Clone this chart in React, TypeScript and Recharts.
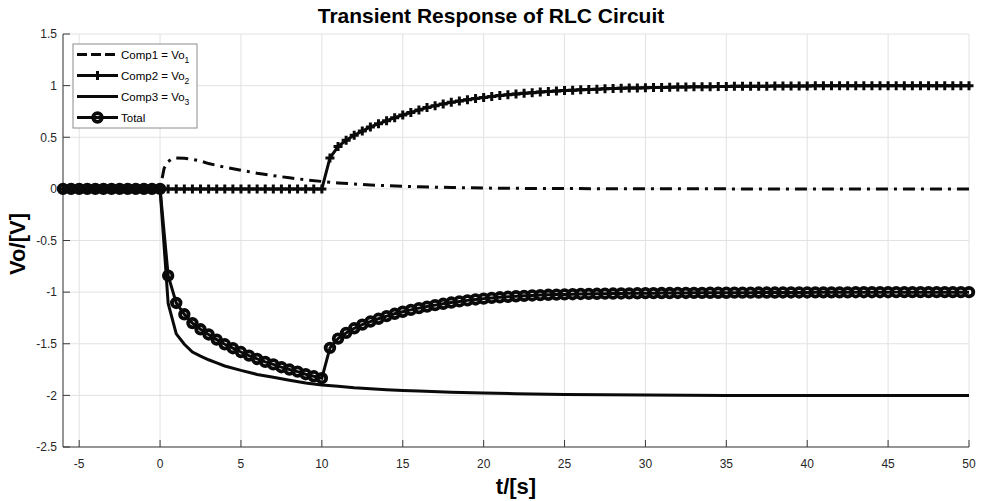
import React from 'react';
import { LineChart, Line, XAxis, YAxis, CartesianGrid } from 'recharts';

// Sample grid for the marked series (0.5 s spacing)
const GRID_T = [
  -6, -5.5, -5, -4.5, -4, -3.5, -3, -2.5, -2, -1.5, -1, -0.5,
  0, 0.5, 1, 1.5, 2, 2.5, 3, 3.5, 4, 4.5, 5, 5.5, 6, 6.5, 7, 7.5, 8, 8.5, 9, 9.5,
  10, 10.5, 11, 11.5, 12, 12.5, 13, 13.5, 14, 14.5, 15, 15.5, 16, 16.5, 17, 17.5, 18, 18.5, 19, 19.5,
  20, 20.5, 21, 21.5, 22, 22.5, 23, 23.5, 24, 24.5, 25, 25.5, 26, 26.5, 27, 27.5, 28, 28.5, 29, 29.5,
  30, 30.5, 31, 31.5, 32, 32.5, 33, 33.5, 34, 34.5, 35, 35.5, 36, 36.5, 37, 37.5, 38, 38.5, 39, 39.5,
  40, 40.5, 41, 41.5, 42, 42.5, 43, 43.5, 44, 44.5, 45, 45.5, 46, 46.5, 47, 47.5, 48, 48.5, 49, 49.5, 50,
];

// Comp2 = Vo2 (step response switched on at t = 10 s)
const COMP2 = [
  0, 0, 0, 0, 0, 0, 0, 0, 0, 0, 0, 0,
  0, 0, 0, 0, 0, 0, 0, 0, 0, 0, 0, 0, 0, 0, 0, 0, 0, 0, 0, 0,
  0, 0.30, 0.41, 0.47, 0.52, 0.56, 0.60, 0.63, 0.66, 0.69, 0.715, 0.74, 0.765, 0.787, 0.806, 0.823, 0.838, 0.852, 0.864, 0.876,
  0.886, 0.895, 0.904, 0.912, 0.919, 0.926, 0.932, 0.938, 0.943, 0.948, 0.952, 0.956, 0.96, 0.963, 0.966, 0.969, 0.972, 0.974, 0.976, 0.978,
  0.98, 0.982, 0.983, 0.985, 0.986, 0.987, 0.988, 0.989, 0.99, 0.991, 0.992, 0.993, 0.993, 0.994, 0.995, 0.995, 0.996, 0.996, 0.997, 0.997,
  0.997, 0.998, 0.998, 0.998, 0.998, 0.999, 0.999, 0.999, 0.999, 0.999, 0.999, 1, 1, 1, 1, 1, 1, 1, 1, 1, 1,
];

// Total output Vo
const TOTAL = [
  0, 0, 0, 0, 0, 0, 0, 0, 0, 0, 0, 0,
  0, -0.84, -1.105, -1.215, -1.3, -1.36, -1.41, -1.46, -1.505, -1.543, -1.58, -1.615, -1.647, -1.676, -1.7, -1.727, -1.75, -1.77, -1.795, -1.815,
  -1.833, -1.54, -1.45, -1.395, -1.35, -1.315, -1.285, -1.258, -1.232, -1.21, -1.19, -1.172, -1.155, -1.14, -1.126, -1.113, -1.101, -1.09, -1.08, -1.071,
  -1.063, -1.056, -1.05, -1.045, -1.04, -1.036, -1.032, -1.029, -1.026, -1.024, -1.022, -1.02, -1.018, -1.017, -1.016, -1.015, -1.014, -1.013, -1.012, -1.011,
  -1.01, -1.01, -1.009, -1.009, -1.008, -1.008, -1.007, -1.007, -1.006, -1.006, -1.006, -1.005, -1.005, -1.005, -1.004, -1.004, -1.004, -1.003, -1.003, -1.003,
  -1.003, -1.002, -1.002, -1.002, -1.002, -1.002, -1.001, -1.001, -1.001, -1.001, -1.001, -1, -1, -1, -1, -1, -1, -1, -1, -1, -1,
];

// Comp1 = Vo1 (transient pulse after t = 0)
const COMP1_T = [-6, 0, 0.25, 0.5, 0.75, 1, 1.5, 2, 2.5, 3, 4, 5, 6, 7, 8, 9, 10, 11, 12, 13, 14, 15, 16, 18, 20, 22, 25, 30, 35, 40, 50];
const COMP1_V = [0, 0, 0.2, 0.265, 0.292, 0.3, 0.296, 0.285, 0.27, 0.245, 0.21, 0.18, 0.152, 0.128, 0.107, 0.088, 0.072, 0.058, 0.047, 0.038, 0.031, 0.025, 0.02, 0.013, 0.008, 0.005, 0.003, 0.001, 0, 0, 0];

// Comp3 = Vo3 (settles at -2 V)
const COMP3_T = [-6, 0, 0.5, 1, 1.5, 2, 2.5, 3, 3.5, 4, 5, 6, 7, 8, 9, 10, 11, 12, 13, 14, 15, 16, 18, 20, 22, 25, 30, 35, 50];
const COMP3_V = [0, 0, -1.11, -1.405, -1.505, -1.58, -1.62, -1.655, -1.685, -1.715, -1.758, -1.797, -1.825, -1.854, -1.881, -1.9, -1.912, -1.926, -1.936, -1.945, -1.952, -1.958, -1.969, -1.977, -1.984, -1.991, -1.997, -2, -2];

const X_TICKS = [-5, 0, 5, 10, 15, 20, 25, 30, 35, 40, 45, 50];
const Y_TICKS = [-2.5, -2, -1.5, -1, -0.5, 0, 0.5, 1, 1.5];

const TITLE = 'Transient Response of RLC Circuit';
const X_LABEL = 't/[s]';
const Y_LABEL = 'Vo/[V]';
const LEGEND_NAMES = ['Comp1 = Vo', 'Comp2 = Vo', 'Comp3 = Vo', 'Total'];
const LEGEND_SUBS = ['1', '2', '3', ''];

const gridRows = GRID_T.map((t, i) => ({ t, comp2: COMP2[i], total: TOTAL[i] }));
const comp1Rows = COMP1_T.map((t, i) => ({ t, v: COMP1_V[i] }));
const comp3Rows = COMP3_T.map((t, i) => ({ t, v: COMP3_V[i] }));

const INK = '#0a0a0a';
const AXIS = '#3a3a3a';
const FONT = '"Liberation Sans", Arial, Helvetica, sans-serif';
const DASH_DOT = '12 6 3 6';

const PlusDot = (props: any) => {
  const { cx, cy, index } = props;
  if (cx == null || cy == null) return null;
  return (
    <path
      key={`plus-${index}`}
      d={`M${cx - 4.5},${cy}H${cx + 4.5}M${cx},${cy - 4.5}V${cy + 4.5}`}
      stroke={INK}
      strokeWidth={3}
      fill="none"
    />
  );
};

const CircleDot = (props: any) => {
  const { cx, cy, index } = props;
  if (cx == null || cy == null) return null;
  return <circle key={`circ-${index}`} cx={cx} cy={cy} r={4.3} fill="none" stroke={INK} strokeWidth={3.8} />;
};

const tickStyle = { fontSize: 12, fill: '#262626', fontFamily: FONT };

function LegendBox() {
  const x0 = 73;
  const y0 = 44;
  const w = 124;
  const rowH = 21;
  return (
    <g>
      <rect x={x0} y={y0} width={w} height={rowH * 4} fill="#fff" stroke="#8c8c8c" strokeWidth={1} />
      {LEGEND_NAMES.map((name, i) => {
        const cy = y0 + rowH * i + rowH / 2;
        const lx1 = x0 + 4;
        const lx2 = x0 + 45;
        const mid = (lx1 + lx2) / 2;
        return (
          <g key={name}>
            <line
              x1={lx1}
              x2={lx2}
              y1={cy}
              y2={cy}
              stroke={INK}
              strokeWidth={3}
              strokeDasharray={i === 0 ? '10 4' : undefined}
            />
            {i === 1 && (
              <path d={`M${mid - 4.5},${cy}H${mid + 4.5}M${mid},${cy - 4.5}V${cy + 4.5}`} stroke={INK} strokeWidth={3} />
            )}
            {i === 3 && <circle cx={mid} cy={cy} r={4.3} fill="none" stroke={INK} strokeWidth={3.8} />}
            <text x={x0 + 48} y={cy + 4} fontSize={11.5} fontFamily={FONT} fill="#000">
              {name}
              {LEGEND_SUBS[i] && (
                <tspan fontSize={8.5} dy={4}>
                  {LEGEND_SUBS[i]}
                </tspan>
              )}
            </text>
          </g>
        );
      })}
    </g>
  );
}

export default function App() {
  return (
    <div style={{ position: 'absolute', left: 0, top: 0, width: 981, height: 501, background: '#fff' }}>
      <LineChart
        width={981}
        height={501}
        data={gridRows}
        margin={{ top: 34, right: 12, bottom: 0, left: 0 }}
      >
        <CartesianGrid stroke="#e2e2e2" strokeWidth={1} />
        <XAxis
          type="number"
          dataKey="t"
          domain={[-6, 50]}
          ticks={X_TICKS}
          height={54}
          stroke={AXIS}
          tickSize={-7}
          tickMargin={19}
          tick={tickStyle}
          interval={0}
        />
        <XAxis
          xAxisId="top"
          orientation="top"
          type="number"
          dataKey="t"
          domain={[-6, 50]}
          ticks={X_TICKS}
          height={0}
          stroke={AXIS}
          tickSize={-7}
          tick={false}
          interval={0}
        />
        <YAxis
          type="number"
          domain={[-2.5, 1.5]}
          ticks={Y_TICKS}
          width={63}
          stroke={AXIS}
          tickSize={-7}
          tickMargin={13}
          tick={tickStyle}
          interval={0}
        />
        <YAxis
          yAxisId="right"
          orientation="right"
          type="number"
          domain={[-2.5, 1.5]}
          ticks={Y_TICKS}
          width={0}
          stroke={AXIS}
          tickSize={-7}
          tick={false}
          interval={0}
        />
        <Line
          data={comp1Rows}
          dataKey="v"
          name="Comp1"
          type="linear"
          stroke={INK}
          strokeWidth={3}
          strokeDasharray={DASH_DOT}
          dot={false}
          isAnimationActive={false}
        />
        <Line
          dataKey="comp2"
          name="Comp2"
          type="linear"
          stroke={INK}
          strokeWidth={3}
          dot={PlusDot}
          isAnimationActive={false}
        />
        <Line
          data={comp3Rows}
          dataKey="v"
          name="Comp3"
          type="linear"
          stroke={INK}
          strokeWidth={3}
          dot={false}
          isAnimationActive={false}
        />
        <Line
          dataKey="total"
          name="Total"
          type="linear"
          stroke={INK}
          strokeWidth={3}
          dot={CircleDot}
          isAnimationActive={false}
        />
      </LineChart>
      <svg
        width={981}
        height={501}
        style={{ position: 'absolute', left: 0, top: 0, pointerEvents: 'none' }}
      >
        <text x={491} y={23} textAnchor="middle" fontSize={21} fontWeight="bold" fontFamily={FONT} fill="#000">
          {TITLE}
        </text>
        <text x={516} y={494} textAnchor="middle" fontSize={22} fontWeight="bold" fontFamily={FONT} fill="#000">
          {X_LABEL}
        </text>
        <text
          x={0}
          y={0}
          transform="translate(25,244) rotate(-90)"
          textAnchor="middle"
          fontSize={22}
          fontWeight="bold"
          fontFamily={FONT}
          fill="#000"
        >
          {Y_LABEL}
        </text>
        <LegendBox />
      </svg>
    </div>
  );
}
